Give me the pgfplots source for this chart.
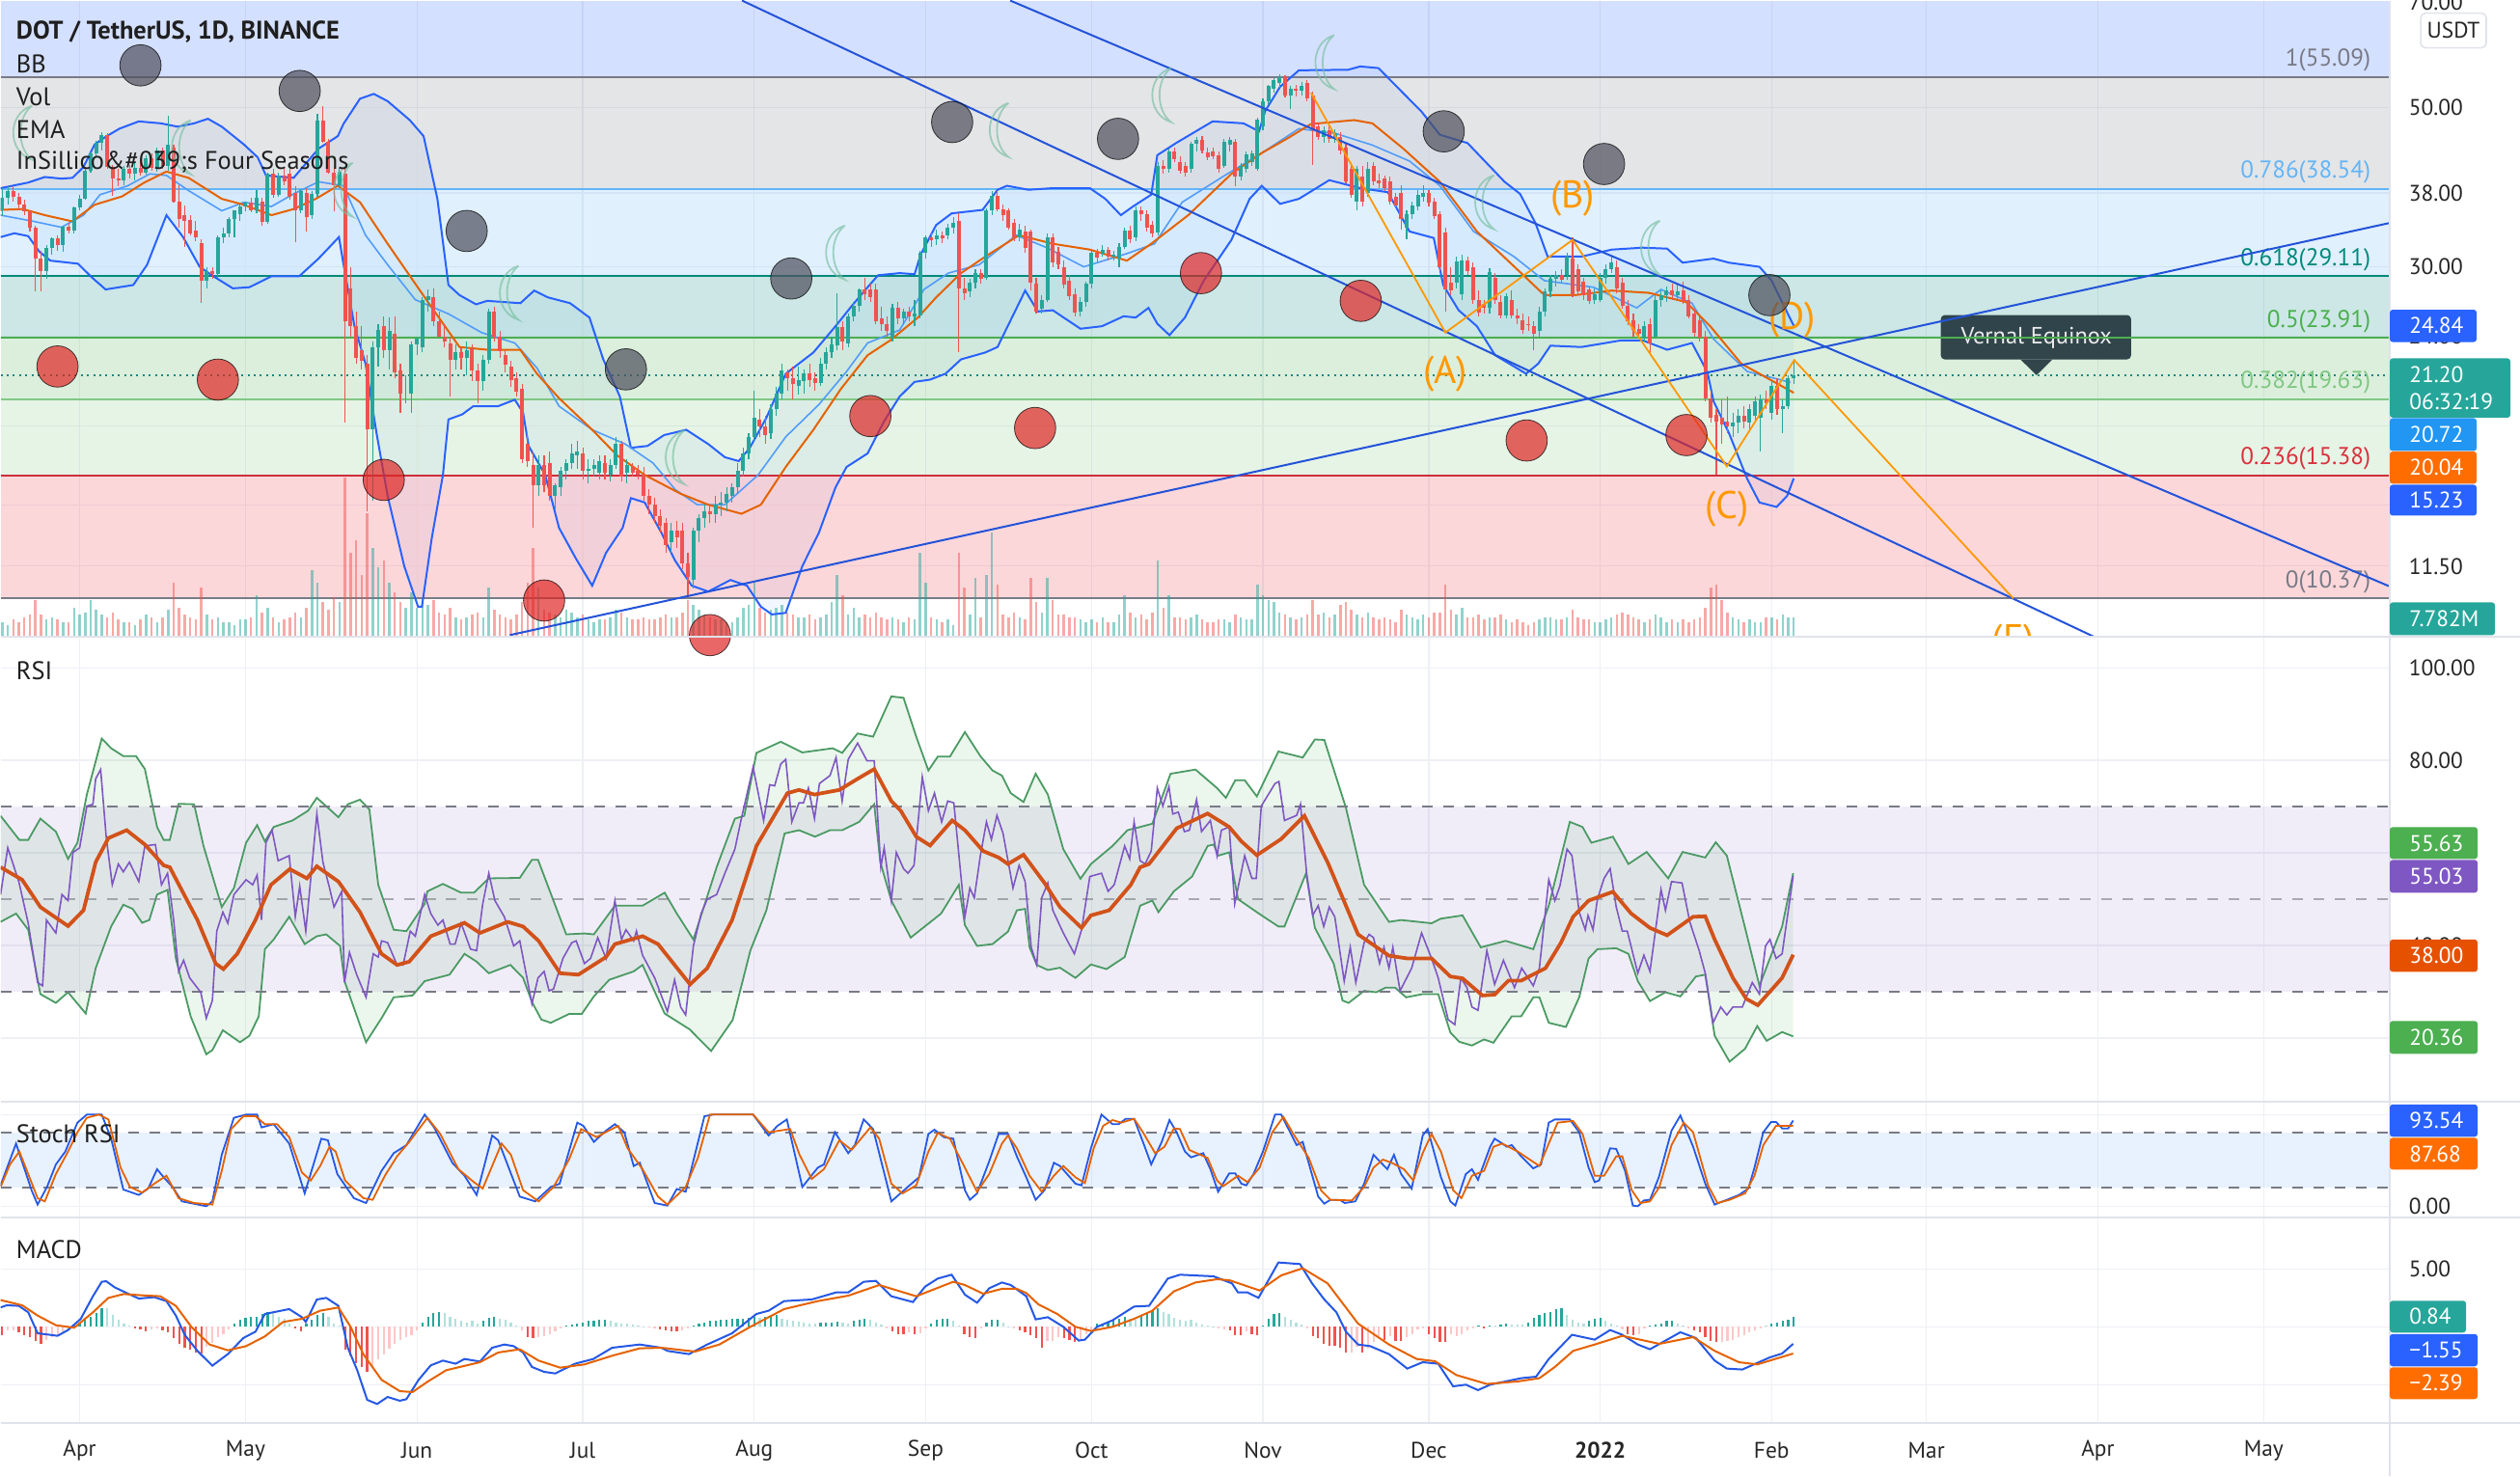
\documentclass[border=0pt]{standalone}
\usepackage{fontspec}
\usepackage{pgfplots}
\usepackage{pgfplotstable}
\pgfplotsset{compat=1.18}
\usepgfplotslibrary{fillbetween}
\setmainfont{PT Sans}

\definecolor{upc}{HTML}{26A69A}
\definecolor{dnc}{HTML}{EF5350}
\definecolor{bluel}{HTML}{2962FF}
\definecolor{orangel}{HTML}{FF6D00}
\definecolor{gridc}{HTML}{EEF0F5}
\definecolor{dividerc}{HTML}{E0E3EB}
\definecolor{fibg}{HTML}{787B86}
\definecolor{fibb}{HTML}{64B5F6}
\definecolor{fibt}{HTML}{00897B}
\definecolor{fibn}{HTML}{4CAF50}
\definecolor{fibl}{HTML}{81C784}
\definecolor{fibr}{HTML}{F23645}
\definecolor{circg}{HTML}{50525F}
\definecolor{circr}{HTML}{DF2625}
\definecolor{moonc}{HTML}{78BEA0}
\definecolor{zigc}{HTML}{FF9800}
\definecolor{rsic}{HTML}{7E57C2}
\definecolor{rsima}{HTML}{D2521A}
\definecolor{bandc}{HTML}{4B9A64}
\definecolor{tipc}{HTML}{2C4147}
\definecolor{tag2}{HTML}{2196F3}
\definecolor{tag3}{HTML}{E65100}

\pgfdeclareplotmark{moon}{%
  \pgfpathmoveto{\pgfpoint{4pt}{14pt}}
  \pgfpathcurveto{\pgfpoint{-9pt}{10pt}}{\pgfpoint{-9pt}{-10pt}}{\pgfpoint{4pt}{-14pt}}
  \pgfpathcurveto{\pgfpoint{-4pt}{-8pt}}{\pgfpoint{-4pt}{8pt}}{\pgfpoint{4pt}{14pt}}
  \pgfusepathqstroke}

% day 0 = 1 Apr 2021; d o h l c v(M)
\pgfplotstableread{
d o h l c v
-14 35.9 38.6 35.3 37.4 6
-13 37.4 38.9 36.6 38.2 5
-12 38.2 38.9 37.0 37.6 7
-11 37.6 38.0 36.0 36.6 6
-10 36.6 37.2 35.4 35.8 8
-9 35.8 36.0 33.6 34.0 9
-8 34.0 34.2 27.7 30.8 15
-7 30.8 31.6 27.7 29.6 9
-6 29.6 32.2 28.9 31.9 7
-5 31.9 33.0 31.2 32.9 8
-4 32.9 33.2 31.6 32.2 7
-3 32.2 34.2 31.5 34.1 6
-2 34.1 34.5 33.4 33.7 6
-1 33.7 36.4 33.4 36.3 12
0 36.3 37.8 35.9 37.3 9
1 37.3 41.3 37.2 40.8 10
2 40.8 43.3 40.5 43.2 15
3 43.2 44.9 42.8 44.6 11
4 44.6 46.2 43.6 45.8 9
5 45.8 46.0 41.0 41.3 8
6 41.3 41.6 37.7 39.8 10
7 39.8 41.0 38.8 39.6 7
8 39.6 41.4 39.0 41.0 6
9 41.0 41.6 39.8 40.4 6
10 40.4 41.8 39.6 41.2 5
11 41.2 42.5 40.2 40.6 7
12 40.6 42.9 40.3 42.5 9
13 42.5 43.2 40.8 41.2 8
14 41.2 43.9 40.7 43.5 6
15 43.5 44.0 41.0 41.5 8
16 41.5 48.6 40.8 44.3 11
17 44.0 44.4 36.8 37.0 22
18 37.0 39.0 34.0 35.0 12
19 35.4 36.5 32.0 34.8 9
20 34.9 35.4 33.2 33.4 8
21 33.7 34.8 32.6 33.0 7
22 32.4 32.8 26.7 28.7 20
23 28.7 30.0 28.0 29.6 9
24 29.6 30.0 28.9 29.3 7
25 29.3 33.2 29.0 33.0 8
26 33.0 34.0 32.4 33.4 6
27 33.4 35.2 33.0 35.0 6
28 35.0 36.0 33.0 35.9 5
29 35.5 36.6 34.8 36.4 7
30 36.4 37.0 35.8 36.8 7
31 36.9 37.4 35.7 36.0 8
32 36.0 38.4 35.6 37.4 17
33 37.0 37.4 34.2 34.6 10
34 34.6 40.6 34.4 40.4 12
35 40.4 41.0 37.4 37.8 8
36 37.8 40.6 37.6 40.2 6
37 40.2 41.2 39.0 39.5 7
38 40.4 41.0 37.2 37.6 8
39 38.0 38.8 32.5 35.9 10
40 35.9 38.5 35.6 38.2 8
41 38.0 38.6 33.6 35.2 12
42 35.4 38.2 35.0 37.9 27
43 37.9 49.0 37.6 47.9 22
44 47.9 50.2 44.6 44.8 14
45 44.8 45.2 40.4 40.6 11
46 40.6 41.2 35.8 39.0 16
47 39.0 41.2 38.6 40.7 14
48 40.4 41.0 18.2 25.2 64
49 28.0 30.0 24.0 24.8 34
50 24.8 26.0 22.0 22.4 39
51 23.0 24.8 21.6 22.2 25
52 22.0 22.6 13.7 17.8 50
53 17.8 23.6 14.2 23.2 36
54 23.2 25.0 21.8 24.5 28
55 24.8 25.6 22.4 23.0 31
56 23.0 25.5 21.6 24.4 22
57 24.2 25.6 21.0 21.4 18
58 21.5 22.0 18.8 20.0 14
59 20.2 21.2 19.4 20.2 12
60 20.0 23.6 18.8 23.4 18
61 23.4 24.0 22.6 23.8 12
62 23.2 27.2 22.8 27.0 16
63 27.0 27.9 26.0 27.3 13
64 27.2 28.0 24.8 25.2 15
65 25.2 26.0 23.8 24.0 10
66 24.0 25.0 23.2 23.6 9
67 23.5 24.0 19.8 22.3 12
68 22.3 23.4 21.6 22.8 8
69 22.8 23.2 21.6 22.4 7
70 22.4 23.6 21.2 23.0 8
71 23.1 23.4 20.8 21.5 9
72 21.5 22.0 19.4 20.8 10
73 20.8 22.6 20.2 22.3 8
74 22.3 26.2 22.0 26.0 20
75 26.0 26.4 23.6 24.0 11
76 24.0 24.4 22.4 22.9 9
77 22.6 23.0 21.4 21.9 8
78 21.8 22.2 20.4 20.9 7
79 21.0 21.4 19.8 20.1 9
80 20.3 20.6 16.0 16.2 14
81 17.0 17.6 15.8 16.1 22
82 15.9 16.6 13.0 14.9 36
83 14.9 16.4 14.4 15.9 20
84 15.9 16.4 14.6 14.9 11
85 16.0 16.6 14.2 14.4 10
86 14.4 15.0 13.8 14.9 9
87 14.8 15.8 14.4 15.6 8
88 15.6 16.2 15.2 16.0 11
89 16.0 17.0 15.7 16.5 10
90 16.4 17.2 15.7 16.6 8
91 16.5 16.8 15.2 15.6 9
92 15.6 16.2 15.0 15.7 7
93 15.7 16.2 15.3 15.9 6
94 15.5 16.4 15.2 16.1 7
95 16.0 16.4 15.2 15.5 7
96 15.4 16.2 15.1 15.9 8
97 15.9 17.4 15.7 17.0 11
98 17.0 17.2 15.1 15.3 10
99 15.5 16.2 15.0 15.9 8
100 15.8 16.0 15.3 15.5 7
101 15.6 15.9 15.2 15.4 7
102 15.4 15.8 14.2 14.4 8
103 14.4 14.7 13.6 14.0 7
104 14.0 14.3 13.2 13.5 7
105 13.5 13.8 12.8 13.1 8
106 13.2 13.4 12.0 12.3 9
107 12.4 13.2 12.0 12.9 8
108 12.9 13.3 12.2 12.6 8
109 12.9 13.2 11.4 11.6 10
110 11.6 12.0 10.4 11.1 15
111 11.0 13.0 10.7 12.9 13
112 12.9 13.6 12.4 13.4 11
113 13.4 14.0 13.0 13.7 9
114 13.7 14.0 13.2 13.6 8
115 13.6 14.4 13.2 14.0 7
116 14.0 14.6 13.5 14.1 7
117 14.1 14.8 13.7 14.5 6
118 14.4 15.0 14.1 14.8 6
119 14.8 16.0 14.5 15.6 8
120 15.6 16.8 15.3 16.5 12
121 16.5 17.6 16.2 17.4 13
122 17.4 20.2 17.2 18.5 22
123 18.4 19.0 17.4 18.0 12
124 18.0 18.6 17.0 17.5 10
125 17.6 19.3 17.3 19.0 11
126 19.0 20.4 18.6 20.0 12
127 20.0 22.0 19.6 21.5 13
128 21.4 21.6 20.2 21.0 10
129 21.0 21.8 19.6 20.6 9
130 20.5 21.8 19.9 20.9 8
131 20.8 21.6 20.0 21.3 8
132 21.3 22.0 20.4 20.9 9
133 21.0 21.4 20.2 20.7 7
134 20.7 22.4 20.5 22.0 8
135 22.0 23.2 21.6 22.8 9
136 22.8 24.0 22.4 23.4 14
137 23.3 27.6 23.0 24.7 25
138 24.7 25.2 23.0 23.6 17
139 23.5 25.8 23.2 25.6 9
140 25.6 26.8 25.2 26.5 12
141 26.5 28.0 26.0 27.9 8
142 27.9 29.0 27.0 27.5 9
143 27.9 28.4 26.8 27.2 8
144 27.9 28.4 25.0 25.2 10
145 25.4 26.4 24.4 25.0 8
146 25.0 25.6 24.0 24.4 7
147 24.0 26.6 23.6 26.3 8
148 26.3 26.8 25.0 25.4 7
149 25.4 26.2 25.0 26.0 6
150 26.0 26.4 25.2 25.6 8
151 25.6 27.0 24.8 25.8 7
152 25.7 31.6 25.4 31.4 34
153 31.4 33.2 30.8 33.0 22
154 33.0 33.6 32.0 32.7 8
155 32.8 33.8 32.2 33.2 7
156 33.2 33.6 32.4 32.9 6
157 33.2 34.4 32.8 34.0 7
158 34.0 35.2 33.4 34.5 5
159 34.7 35.6 22.8 28.0 34
160 28.0 29.0 27.0 27.6 20
161 27.7 28.9 27.2 28.5 9
162 28.5 29.8 28.0 29.4 24
163 29.4 29.8 28.4 28.9 8
164 29.0 36.2 28.8 35.9 25
165 35.9 38.2 35.4 37.7 42
166 37.7 38.2 35.8 36.1 21
167 36.1 36.6 34.8 35.4 9
168 35.9 36.2 33.8 34.0 8
169 34.5 35.0 32.6 33.0 10
170 33.0 34.4 32.6 33.8 8
171 33.6 34.2 31.4 31.9 7
172 33.6 33.8 27.8 28.5 24
173 28.4 29.0 25.8 26.0 14
174 26.2 27.4 25.8 27.0 10
175 27.0 33.4 26.8 33.0 24
176 33.0 33.4 30.0 30.4 15
177 31.5 32.0 29.8 30.2 9
178 30.0 30.6 28.0 28.3 9
179 28.7 29.2 27.0 27.3 8
180 27.5 28.0 25.6 25.9 8
181 26.0 27.2 25.6 26.8 7
182 26.8 28.6 26.4 28.4 6
183 28.4 31.6 28.0 31.4 7
184 31.4 31.8 30.4 30.9 6
185 31.3 32.2 31.0 31.7 8
186 31.7 32.0 30.6 31.0 6
187 31.0 31.6 30.6 31.2 6
188 30.8 32.4 30.0 32.0 9
189 32.0 34.0 31.8 33.7 17
190 33.7 34.2 32.4 32.8 10
191 33.0 36.4 32.6 36.0 8
192 36.0 36.4 34.8 35.5 9
193 35.5 36.0 33.6 34.0 7
194 34.3 34.8 33.0 33.4 10
195 33.5 42.0 33.2 41.5 31
196 41.5 42.2 40.4 41.0 12
197 41.0 43.8 40.6 43.4 17
198 43.4 44.0 42.0 42.4 8
199 42.0 42.8 40.4 40.8 8
200 41.4 42.0 40.0 40.6 7
201 41.0 44.8 40.6 44.5 8
202 44.5 45.4 43.4 45.0 9
203 45.0 45.6 43.2 43.6 7
204 43.3 44.0 42.2 42.6 6
205 43.4 44.0 42.4 42.8 6
206 42.9 43.4 40.6 41.0 7
207 41.5 45.2 41.2 44.8 7
208 44.4 45.4 43.4 45.0 6
209 44.8 45.2 38.8 40.0 9
210 40.0 41.8 39.6 41.4 8
211 41.0 43.4 40.6 43.0 7
212 42.0 43.6 41.4 43.2 7
213 41.0 48.4 40.8 48.0 21
214 47.0 51.4 46.4 51.0 17
215 51.0 53.8 50.4 53.5 15
216 53.0 55.0 52.4 54.5 14
217 54.0 55.6 53.2 55.0 10
218 55.0 55.4 51.6 52.0 9
219 52.0 53.6 49.8 53.0 8
220 53.0 53.8 51.8 52.8 7
221 52.8 54.2 52.0 53.5 8
222 54.0 54.6 51.0 51.5 9
223 52.0 52.6 41.6 46.5 15
224 47.0 47.6 45.0 45.5 9
225 45.5 47.0 44.6 46.5 10
226 46.5 47.2 44.6 45.2 8
227 45.2 46.6 44.6 46.0 9
228 45.5 46.2 43.0 43.5 13
229 44.0 44.6 39.2 39.5 14
230 41.0 41.6 37.4 37.8 11
231 37.0 41.4 36.0 41.0 9
232 40.0 41.4 36.4 37.0 8
233 38.0 42.0 37.6 41.0 10
234 41.5 42.0 39.0 39.5 8
235 39.6 40.4 38.6 39.2 7
236 39.8 40.2 38.2 38.6 8
237 39.5 40.0 36.6 37.0 7
238 37.5 38.0 36.2 36.5 6
239 38.0 39.0 33.8 35.0 11
240 34.0 36.0 32.8 35.5 9
241 35.5 37.0 35.0 36.5 8
242 36.4 38.4 36.0 37.8 7
243 37.5 39.0 37.0 38.0 9
244 38.0 38.4 36.4 36.8 8
245 37.0 37.4 35.0 35.3 10
246 35.5 35.8 29.6 30.0 10
247 33.5 34.0 26.0 27.9 21
248 28.5 30.0 27.4 27.8 11
249 28.5 31.0 28.0 30.5 9
250 27.5 31.2 27.0 30.6 12
251 30.6 31.0 29.2 29.6 8
252 30.0 30.4 26.6 27.0 8
253 27.0 27.8 25.6 25.9 9
254 26.6 27.0 25.8 26.3 7
255 26.3 29.9 25.8 29.5 8
256 29.0 29.4 26.6 27.0 8
257 26.8 27.4 25.4 25.7 9
258 25.7 27.6 25.4 27.3 7
259 27.0 27.8 25.4 25.7 6
260 25.7 26.2 25.0 25.4 7
261 25.3 25.8 24.2 24.5 6
262 25.0 25.6 24.4 24.9 5
263 24.8 25.2 23.0 24.2 6
264 24.4 26.4 24.0 26.0 7
265 26.0 28.0 25.6 27.7 8
266 27.7 29.2 27.2 28.9 8
267 28.9 29.6 28.2 29.2 7
268 29.2 29.8 28.4 28.8 7
269 29.2 31.4 28.8 31.0 8
270 30.8 33.0 27.2 27.5 11
271 29.8 30.2 27.4 27.7 8
272 28.6 29.0 27.0 27.4 7
273 27.9 28.2 26.6 26.9 7
274 27.0 28.0 26.6 27.5 6
275 27.0 29.4 26.8 29.0 6
276 29.0 30.2 28.4 29.8 7
277 29.8 31.0 29.4 30.4 8
278 30.0 30.6 27.6 28.0 9
279 28.5 29.0 26.2 26.5 10
280 26.5 27.0 24.9 25.2 9
281 25.3 25.8 24.0 24.5 8
282 24.6 25.0 23.9 24.2 7
283 23.9 25.2 23.6 24.8 6
284 25.0 25.4 22.6 23.5 7
285 24.0 27.4 23.8 27.0 9
286 27.0 27.8 26.4 27.4 8
287 27.4 28.2 26.8 27.8 6
288 27.8 28.4 27.0 27.4 7
289 27.4 28.4 27.0 27.7 6
290 27.8 28.6 26.6 26.9 7
291 27.0 27.4 25.4 25.6 6
292 25.8 26.2 24.0 24.3 7
293 25.3 25.6 23.6 23.9 8
294 24.0 24.4 19.5 19.7 12
295 19.7 20.2 18.2 18.5 20
296 18.7 19.0 15.4 18.3 21
297 18.5 19.6 17.0 18.1 15
298 18.3 19.8 17.6 18.0 10
299 18.0 18.8 17.4 18.2 8
300 18.2 19.0 17.6 18.6 7
301 18.6 19.2 17.9 18.3 6
302 18.2 19.3 17.7 19.0 7
303 18.6 19.8 18.2 19.5 6
304 18.5 19.9 16.6 19.6 6
305 19.6 20.2 19.0 19.4 8
306 18.8 20.8 18.4 20.5 8
307 20.5 21.0 18.7 19.0 7
308 19.0 19.6 17.6 19.2 9
309 19.2 21.2 19.0 21.0 8
310 21.0 22.3 20.6 21.2 7.782
}\candles

% d h k: k=1 rising above 0, 2 falling above 0, 3 falling below 0, 4 rising below 0
\pgfplotstableread[row sep=\\]{
d h k \\
-14 -.7 3 \\ -13 -.3 4 \\ -12 -.3 4 \\ -11 -.5 3 \\ -10 -.7 3 \\ -9 -.9 3 \\ -8 -1.2 3 \\ -7 -1.5 3 \\ -6 -1.1 4 \\ -5 -.9 4 \\
-4 -.8 4 \\ -3 -.5 4 \\ -2 -.2 4 \\ -1 .1 1 \\ 0 .4 1 \\ 1 .7 1 \\ 2 .9 1 \\ 3 1.2 1 \\ 4 1.6 1 \\ 5 1.6 2 \\
6 1 2 \\ 7 .6 2 \\ 8 .3 2 \\ 9 .1 2 \\ 10 -.1 3 \\ 11 -.2 3 \\ 12 -.35 3 \\ 13 -.2 4 \\ 14 -.1 4 \\ 15 -.3 3 \\
16 -.5 3 \\ 17 -1 3 \\ 18 -1.5 3 \\ 19 -1.8 3 \\ 20 -2 3 \\ 21 -2.2 3 \\ 22 -2.3 3 \\ 23 -1.7 4 \\ 24 -1.4 4 \\ 25 -.9 4 \\
26 -.6 4 \\ 27 -.2 4 \\ 28 .3 1 \\ 29 .6 1 \\ 30 .8 1 \\ 31 .85 1 \\ 32 .9 1 \\ 33 1.1 1 \\ 34 1.3 1 \\ 35 1.2 2 \\
36 .9 2 \\ 37 .7 2 \\ 38 .3 2 \\ 39 -.15 3 \\ 40 -.4 3 \\ 41 .3 1 \\ 42 .6 1 \\ 43 1 1 \\ 44 1.2 1 \\ 45 .9 2 \\
46 .3 2 \\ 47 .1 2 \\ 48 -2 3 \\ 49 -2.5 3 \\ 50 -3.1 3 \\ 51 -3.5 3 \\ 52 -3.9 3 \\ 53 -3.4 4 \\ 54 -2.8 4 \\ 55 -2.4 4 \\
56 -1.9 4 \\ 57 -1.5 4 \\ 58 -1.1 4 \\ 59 -.9 4 \\ 60 -.7 4 \\ 61 -.3 4 \\ 62 .4 1 \\ 63 .9 1 \\ 64 1.2 1 \\ 65 1.3 1 \\
66 1.2 2 \\ 67 .9 2 \\ 68 .7 2 \\ 69 .5 2 \\ 70 .4 2 \\ 71 .5 2 \\ 72 .3 2 \\ 73 .5 1 \\ 74 .8 1 \\ 75 .9 1 \\
76 .7 2 \\ 77 .6 2 \\ 78 .4 2 \\ 79 .1 2 \\ 80 -.3 4 \\ 81 -.9 3 \\ 82 -1 3 \\ 83 -.9 4 \\ 84 -.8 4 \\ 85 -.6 4 \\
86 -.4 4 \\ 87 -.1 4 \\ 88 .1 1 \\ 89 .2 1 \\ 90 .3 1 \\ 91 .4 1 \\ 92 .5 1 \\ 93 .5 1 \\ 94 .6 1 \\ 95 .6 1 \\
96 .5 2 \\ 97 .4 2 \\ 98 .3 2 \\ 99 .3 2 \\ 100 .2 2 \\ 101 .1 2 \\ 102 .05 2 \\ 103 -.05 4 \\ 104 -.1 4 \\ 105 -.2 3 \\
106 -.3 3 \\ 107 -.4 3 \\ 108 -.4 3 \\ 109 -.3 4 \\ 110 -.15 4 \\ 111 .1 1 \\ 112 .3 1 \\ 113 .4 1 \\ 114 .5 1 \\ 115 .5 1 \\
116 .6 1 \\ 117 .6 1 \\ 118 .7 1 \\ 119 .7 1 \\ 120 .7 1 \\ 121 .8 1 \\ 122 .9 1 \\ 123 .8 2 \\ 124 .9 1 \\ 125 .95 1 \\
126 1 1 \\ 127 .7 2 \\ 128 .6 2 \\ 129 .5 2 \\ 130 .45 2 \\ 131 .4 2 \\ 132 .3 2 \\ 133 .3 2 \\ 134 .4 1 \\ 135 .4 1 \\
136 .4 1 \\ 137 .45 1 \\ 138 .4 2 \\ 139 .3 2 \\ 140 .5 1 \\ 141 .6 1 \\ 142 .7 1 \\ 143 .6 2 \\ 144 .4 2 \\ 145 .2 2 \\
146 -.1 4 \\ 147 -.4 3 \\ 148 -.6 3 \\ 149 -.6 3 \\ 150 -.5 4 \\ 151 -.6 3 \\ 152 -.55 4 \\ 153 -.1 4 \\ 154 .3 1 \\ 155 .6 1 \\
156 .7 1 \\ 157 .7 1 \\ 158 .5 2 \\ 159 .1 2 \\ 160 -.6 3 \\ 161 -.9 3 \\ 162 -1 3 \\ 163 -.1 4 \\ 164 .4 1 \\ 165 .6 1 \\
166 .6 1 \\ 167 .4 2 \\ 168 .05 2 \\ 169 -.1 4 \\ 170 -.3 3 \\ 171 -.5 3 \\ 172 -.7 3 \\ 173 -1 3 \\ 174 -1.8 3 \\ 175 -1.2 4 \\
176 -1.2 4 \\ 177 -.9 4 \\ 178 -1 3 \\ 179 -1.1 3 \\ 180 -1.3 3 \\ 181 -1.1 4 \\ 182 -.6 4 \\ 183 -.3 4 \\ 184 .3 1 \\ 185 .3 1 \\
186 .4 1 \\ 187 .5 1 \\ 188 .7 1 \\ 189 .9 1 \\ 190 .7 2 \\ 191 .6 2 \\ 192 1 1 \\ 193 1.2 1 \\ 194 1.4 1 \\ 195 1.6 1 \\
196 1.3 2 \\ 197 1.1 2 \\ 198 .8 2 \\ 199 .6 2 \\ 200 .5 2 \\ 201 .6 2 \\ 202 .4 2 \\ 203 .2 2 \\ 204 .1 2 \\ 205 .02 2 \\
206 -.1 4 \\ 207 -.2 4 \\ 208 -.3 3 \\ 209 -.7 3 \\ 210 -.7 3 \\ 211 -.4 4 \\ 212 -.6 3 \\ 213 -.7 3 \\ 214 .1 1 \\ 215 .7 1 \\
216 1.1 1 \\ 217 1.2 1 \\ 218 .9 2 \\ 219 .6 2 \\ 220 .4 2 \\ 221 .2 2 \\ 222 -.1 4 \\ 223 -.8 3 \\ 224 -1 3 \\ 225 -1.5 3 \\
226 -1.6 3 \\ 227 -1.6 3 \\ 228 -1.8 3 \\ 229 -2.2 3 \\ 230 -2.2 4 \\ 231 -1.7 4 \\ 232 -2.2 3 \\ 233 -1.9 4 \\ 234 -1.3 4 \\ 235 -.8 4 \\
236 -1.1 3 \\ 237 -.8 4 \\ 238 -1.2 3 \\ 239 -1.2 3 \\ 240 -.9 4 \\ 241 -.6 4 \\ 242 -.2 4 \\ 243 -.1 4 \\ 244 -.6 3 \\ 245 -1 3 \\
246 -1.3 3 \\ 247 -1.3 3 \\ 248 -.6 4 \\ 249 -.8 4 \\ 250 -.6 4 \\ 251 -.3 4 \\ 252 -.1 4 \\ 253 .1 1 \\ 254 -.1 3 \\ 255 .15 1 \\
256 .1 2 \\ 257 .2 1 \\ 258 .3 1 \\ 259 .2 2 \\ 260 .2 2 \\ 261 .2 2 \\ 262 .4 1 \\ 263 .8 1 \\ 264 1 1 \\ 265 1.2 1 \\
266 1.3 1 \\ 267 1.5 1 \\ 268 1.6 1 \\ 269 1 2 \\ 270 .6 2 \\ 271 .4 2 \\ 272 .3 2 \\ 273 .5 1 \\ 274 .7 1 \\ 275 .8 1 \\
276 .5 2 \\ 277 .3 2 \\ 278 .1 2 \\ 279 -.2 4 \\ 280 -.6 3 \\ 281 -.7 3 \\ 282 -.6 4 \\ 283 -.1 4 \\ 284 .1 1 \\ 285 .2 1 \\
286 .3 1 \\ 287 .5 1 \\ 288 .5 1 \\ 289 .3 2 \\ 290 .1 2 \\ 291 -.1 4 \\ 292 -.3 3 \\ 293 -.5 3 \\ 294 -.9 3 \\ 295 -1.2 3 \\
296 -1.3 3 \\ 297 -1.3 4 \\ 298 -1.2 4 \\ 299 -1.1 4 \\ 300 -.9 4 \\ 301 -.7 4 \\ 302 -.5 4 \\ 303 -.3 4 \\ 304 -.1 4 \\ 305 .1 2 \\
306 .3 1 \\ 307 .4 1 \\ 308 .5 1 \\ 309 .6 1 \\ 310 .84 1 \\
}\machist

\pgfplotsset{
  pane/.style={
    scale only axis, width=1238.5pt, xmin=-14.3, xmax=417.8, anchor=north west,
    xtick={0,30,61,91,122,153,183,214,244,275,306,334,365,395},
    xticklabels={}, grid=major, grid style={color=gridc, line width=.6pt},
    axis line style={draw=none}, major tick length=0pt,
    ytick pos=right, yticklabel pos=right,
    yticklabel style={anchor=west, inner sep=0pt, xshift=9.75pt, font=\fontsize{11.7}{12}\selectfont, text=black!85},
    tick style={draw=none}},
  overlay/.style={
    scale only axis, width=1238.5pt, xmin=-14.3, xmax=417.8, anchor=north west, hide axis}
}

\newcommand{\filterup}[1]{{\thisrow{c}>=\thisrow{o}?\thisrow{#1}:nan}}
\newcommand{\filterdn}[1]{{\thisrow{c}<\thisrow{o}?\thisrow{#1}:nan}}
\newcommand{\histk}[1]{{\thisrow{k}==#1?\thisrow{h}:nan}}
\newcommand{\lblfont}{\fontsize{11.7}{12}\selectfont}
\newcommand{\legfont}{\fontsize{13.2}{14}\selectfont}
\newcommand{\fibfont}{\fontsize{12.6}{13}\selectfont}
\newcommand{\pill}[5]{%
  \fill[#4, rounded corners=1.5pt] (1238.5pt,{(1530-#1)/2*1pt}) rectangle ({#3/2*1pt},{(1530-#2)/2*1pt});
  \node[anchor=west, inner sep=0pt, white, font=\lblfont] at (1248.5pt,{(1530-(#1+#2)/2)/2*1pt}) {#5};}
\newcommand{\panetext}[3]{\node[anchor=west, inner sep=0pt, text=black!88, font=#3] at (8pt,{(1530-#1)/2*1pt}) {#2};}

\begin{document}
\begin{tikzpicture}
\path (0,0) rectangle (1306pt,765pt);

% price pane: fibonacci bands
\begin{axis}[pane, at={(0pt,765pt)}, height=330pt, ymode=log, ymin=9.16, ymax=70.4,
  ytick={11.5,14,18,24,30,38,50}, yticklabels={11.50,,,24.00,30.00,38.00,50.00},
  minor ytick={}, log basis y=10]
  \addplot[draw=none, fill=bluel, fill opacity=.2] coordinates {(-14.3,70.4)(417.8,70.4)(417.8,55.09)(-14.3,55.09)} --cycle;
  \addplot[draw=none, fill=fibg, fill opacity=.2] coordinates {(-14.3,55.09)(417.8,55.09)(417.8,38.54)(-14.3,38.54)} --cycle;
  \addplot[draw=none, fill=fibb, fill opacity=.2] coordinates {(-14.3,38.54)(417.8,38.54)(417.8,29.11)(-14.3,29.11)} --cycle;
  \addplot[draw=none, fill=fibt, fill opacity=.2] coordinates {(-14.3,29.11)(417.8,29.11)(417.8,23.91)(-14.3,23.91)} --cycle;
  \addplot[draw=none, fill=fibn, fill opacity=.2] coordinates {(-14.3,23.91)(417.8,23.91)(417.8,19.63)(-14.3,19.63)} --cycle;
  \addplot[draw=none, fill=fibl, fill opacity=.2] coordinates {(-14.3,19.63)(417.8,19.63)(417.8,15.38)(-14.3,15.38)} --cycle;
  \addplot[draw=none, fill=fibr, fill opacity=.2] coordinates {(-14.3,15.38)(417.8,15.38)(417.8,10.37)(-14.3,10.37)} --cycle;
  % tooltip
  \fill[tipc, opacity=.97, rounded corners=2pt] (axis cs:336.6,25.7) rectangle (axis cs:371,22.3);
  \fill[tipc, opacity=.97] (axis cs:351,22.3) -- (axis cs:353.9,21.2) -- (axis cs:356.8,22.3) -- cycle;
  \node[text=white!92!black, font=\fontsize{12.2}{13}\selectfont, inner sep=0pt] at (axis cs:353.9,23.91) {Vernal Equinox};
  % fib levels
  \addplot[fibg, line width=1pt] coordinates {(-14.3,55.09)(417.8,55.09)};
  \addplot[fibb, line width=1pt] coordinates {(-14.3,38.54)(417.8,38.54)};
  \addplot[fibt, line width=1pt] coordinates {(-14.3,29.11)(417.8,29.11)};
  \addplot[fibn, line width=1pt] coordinates {(-14.3,23.91)(417.8,23.91)};
  \addplot[fibl, line width=1pt] coordinates {(-14.3,19.63)(417.8,19.63)};
  \addplot[fibr!85!black, line width=1pt] coordinates {(-14.3,15.38)(417.8,15.38)};
  \addplot[fibg, line width=1pt] coordinates {(-14.3,10.37)(417.8,10.37)};
  \addplot[upc!80!black, line width=.7pt, dash pattern=on 1pt off 2.2pt] coordinates {(-14.3,21.2)(417.8,21.2)};
  \begin{scope}[font=\fibfont, yshift=2.5pt]
    \node[anchor=south east, inner sep=0pt, text=fibg] at (axis cs:414.4,55.09) {1(55.09)};
    \node[anchor=south east, inner sep=0pt, text=fibb] at (axis cs:414.4,38.54) {0.786(38.54)};
    \node[anchor=south east, inner sep=0pt, text=fibt] at (axis cs:414.4,29.11) {0.618(29.11)};
    \node[anchor=south east, inner sep=0pt, text=fibn] at (axis cs:414.4,23.91) {0.5(23.91)};
    \node[anchor=south east, inner sep=0pt, text=fibl] at (axis cs:414.4,19.63) {0.382(19.63)};
    \node[anchor=south east, inner sep=0pt, text=fibr!90!black] at (axis cs:414.4,15.38) {0.236(15.38)};
    \node[anchor=south east, inner sep=0pt, text=fibg] at (axis cs:414.4,10.37) {0(10.37)};
  \end{scope}
\end{axis}

% volume
\begin{axis}[overlay, at={(0pt,765pt)}, height=330pt, ymin=0, ymax=256]
  \addplot[ycomb, upc, opacity=.5, line width=1.25pt, mark=none] table[x=d, y expr=\filterup{v}] {\candles};
  \addplot[ycomb, dnc, opacity=.5, line width=1.25pt, mark=none] table[x=d, y expr=\filterdn{v}] {\candles};
\end{axis}

% candles, bollinger, ema, drawings
\begin{axis}[overlay, at={(0pt,765pt)}, height=330pt, ymode=log, ymin=9.16, ymax=70.4]
  \addplot[name path=bbu, bluel, line width=1pt] coordinates {
  (-14.3,38.6)(-9.3,39.3)(-6.3,40)(-3.3,39.8)(-1.3,39.9)(0.7,41.3)(2.7,44.4)(4.7,45.5)(7.2,46.7)(10.7,47.8)(14.7,47.5)(17.7,47)(20.7,47.5)(23.2,48.2)(25.7,47)(29.7,44.4)(32.2,42.6)(33.7,40.2)(38.7,39.9)(43.2,43.8)(46.7,45.6)(47.7,47.4)(50.7,51.4)(53.2,52.2)(55.7,51)(59.7,48)(62.2,45.6)(64.7,37.3)(66.7,28.3)(68.7,27.4)(71.7,26.6)(73.7,26.9)(79.7,26.7)(82.2,27.8)(84.7,27.2)(88.7,26.7)(92.2,25.5)(94.7,22.3)(97.7,19.8)(99.7,16.8)(102.7,16.9)(105.7,17.5)(109.7,17.8)(113.7,17)(116.7,16.3)(119.2,16.1)(121.2,16.8)(124.2,18.5)(127.7,21.3)(132.7,22.8)(136.7,24.8)(139.7,26.5)(142.5,28.1)
  (144.4,29.2)(148.3,29.4)(151,29.3)(152.1,31.2)(154.9,34.3)(157.7,35.6)(163.3,36)(166,38.4)(167.7,38.9)(171.6,38.4)(176,38.6)(182.7,38.6)(185.5,37.3)(188.3,35.4)(190.5,36.4)(193.8,37.8)(194.9,42.9)(198.3,44.6)(204.9,47.8)(210.5,47.5)(213.3,46.3)(214.4,49.4)(217.1,53.4)(220.5,56.3)(229.4,56.4)(231.6,57)(234.9,56.7)(239.4,52.3)(242.7,49.3)(246,45.8)(251,44.6)(257.7,39.4)(260.5,37.9)(263.3,34.5)(265.5,31)(271.6,31)(277.1,31.7)(282.7,31.9)(287.1,31.8)(289.9,30.4)(295.5,30.8)(298.3,30.4)(303.8,30)(306,28.7)(308.2,26.5)(310,24.84)};
  \addplot[name path=bbl, bluel, line width=1pt] coordinates {
  (-14.3,33)(-11.8,33.4)(-9.3,33.1)(-7.3,31.5)(-5.3,30.6)(-0.3,30.3)(2.2,29)(4.7,27.9)(9.7,28.3)(12.2,30.2)(15.7,35.4)(18.7,33)(21.7,30)(24.2,29.1)(27.7,28)(30.7,28.1)(34.7,29.1)(39.7,29.1)(43.2,30.8)(46.9,33)(47.7,30.3)(49.7,24.8)(51.7,22)(53.7,17.6)(55.7,14.4)(58.7,11.5)(61.2,10.1)(61.9,10.1)(63.7,12.6)(65.7,15.4)(66.7,18.4)(69.2,18.7)(71.2,19.2)(75.7,19.2)(78.7,19.6)(80.2,18.8)(81.2,16.9)(84.2,15.4)(86.7,13)(89.7,11.8)(92.7,10.8)(95.2,12)(98.2,13)(99.7,14.3)(102.2,14.1)(105.2,12.8)(107.7,11.7)(110.7,10.8)(113.7,10.6)(117.7,11)(120.7,10.8)(123.2,10.1)(125.2,9.85)(127.7,9.9)(130.7,11.5)(133.7,12.8)(136.7,14.8)(138.7,15.8)(142.5,16.5)
  (145.5,18.3)(148.3,19.8)(151,20.75)(153.8,20.9)(156.6,21.3)(159.4,22.3)(163.8,22.8)(166,23.2)(171,27.8)(173.3,26)(176,26.1)(181,24.6)(184.9,24.8)(188.8,25.6)(191,25.5)(193.3,26.3)(194.9,25)(197.1,24.1)(199.9,25.5)(203.3,28.7)(208.3,32.7)(211.6,37.3)(213.8,38.9)(217.1,36.7)(220.5,37.3)(226,39.6)(231.6,38.6)(236.6,38.1)(240.5,33.6)(244.9,32.9)(246.6,28.3)(249.4,26.1)(252.7,24.8)(256,22.6)(261.6,21.3)(263.8,22)(266,23.3)(271.6,23.2)(278.8,23.7)(282.7,23.7)(287.1,23)(291.6,23.5)(294.4,21.4)(295.5,19.5)(298.3,17.6)(301.6,15.2)(303.8,14.1)(306.9,13.9)(308.8,14.4)(310,15.23)};
  \addplot[fill=fibb!60!bluel, fill opacity=.075, draw=none] fill between[of=bbu and bbl];
  % basis
  \addplot[color=fibb!70!bluel, line width=.8pt] coordinates {
  (-14.3,35.4)(-8.3,34.7)(-3.3,34.05)(.7,35.4)(3.7,37.8)(8.7,38.9)(12.7,40.4)(15.7,40.2)(19.7,38.3)(25.7,35.9)(29.7,36.9)(34.7,36.4)(38.7,37.9)(43.2,39.4)(47.7,38.9)(51.7,33.2)(55.7,30.2)(60.7,27)(66.7,25.8)(72.7,24.3)(78.7,23.5)(82.7,21.7)(86.7,19.2)(92.7,17.8)(98.7,17)(103.7,16)(107.7,14.7)(111.7,14)(116.7,14)(122.7,15.4)(127.7,17.4)(133.7,19.3)(138.7,21.45)(142.5,23.5)
  (148.3,24.5)(152.7,27.9)(157.1,29.4)(162.7,30.2)(169.4,33.2)(174.9,31.9)(181.6,30)(189.4,31.3)(194.4,32.3)(199.4,36.9)(207.1,40.2)(213.8,43.2)(220.5,46.7)(227.1,46)(233.8,44.3)(240.5,42.1)(246,38.9)(252.1,33.6)(259.4,31)(264.9,28.7)(273.8,28.1)(281.6,26.3)(286,27.9)(291.6,26.7)(295.5,23.8)(301.6,21.45)(309.4,20.72)};
  % ema
  \addplot[orangel!90!black, line width=1pt] coordinates {
  (-14.3,36)(-10.3,36.1)(-6.3,35.4)(-1.3,34.7)(2.7,36.6)(7.7,37.6)(11.7,39.3)(15.7,40.7)(19.7,39.9)(25.7,37.3)(29.7,36.6)(34.7,35.4)(38.7,36.1)(42.7,37.3)(46.7,38.9)(50.7,36.9)(55.7,32.3)(62.7,27)(68.7,23.2)(73.7,23)(79.7,23)(82.7,21.3)(86.7,19.7)(92.7,17.8)(97.2,16.4)(102.2,15.4)(108.7,14.5)(113.7,14)(119.7,13.6)(123.2,14)(127.7,15.8)(132.7,17.8)(137.7,20.3)(142.5,22.6)
  (146.6,23.7)(151.6,25.5)(154.9,27.2)(159.4,29.4)(163.8,31)(169.9,33.2)(176,32.3)(182.7,31.7)(189.4,30.6)(193.8,32.3)(200.5,35.4)(208.3,40.4)(213.8,43.2)(218.3,45.2)(222.7,47.4)(230.5,48)(233.8,47.5)(239.4,43.8)(246,39.4)(252.7,33.6)(260.5,29.5)(264.9,27.4)(270.5,27.4)(277.1,27.8)(283.8,27.6)(290.5,26.8)(294.9,24.8)(300.5,22)(310,20.04)};
  % candles: wicks then bodies
  \addplot[draw=none, mark=none, error bars/.cd, y dir=both, y explicit, error mark=none, error bar style={upc, line width=.55pt}]
    table[x=d, y expr=\filterup{o}, y error plus expr={\thisrow{h}-\thisrow{o}}, y error minus expr={\thisrow{o}-\thisrow{l}}] {\candles};
  \addplot[draw=none, mark=none, error bars/.cd, y dir=both, y explicit, error mark=none, error bar style={dnc, line width=.55pt}]
    table[x=d, y expr=\filterdn{c}, y error plus expr={\thisrow{h}-\thisrow{c}}, y error minus expr={\thisrow{c}-\thisrow{l}}] {\candles};
  \addplot[draw=none, mark=none, error bars/.cd, y dir=plus, y explicit, error mark=none, error bar style={upc, line width=2pt}]
    table[x=d, y expr=\filterup{o}, y error plus expr={\thisrow{c}-\thisrow{o}}] {\candles};
  \addplot[draw=none, mark=none, error bars/.cd, y dir=plus, y explicit, error mark=none, error bar style={dnc, line width=2pt}]
    table[x=d, y expr=\filterdn{c}, y error plus expr={\thisrow{o}-\thisrow{c}}] {\candles};
  % four seasons
  \addplot[only marks, mark=*, mark size=10.7pt, mark options={fill=circg, draw=none, opacity=.72}] coordinates {
  (11,57.2)(39.8,52.7)(70,33.65)(98.8,21.6)(128.7,28.9)(157.8,47.7)(187.8,45.2)(246.7,46.3)(275.7,41.7)(305.6,27.4)};
  \addplot[only marks, mark=*, mark size=10.7pt, mark options={fill=circr, draw=none, opacity=.7}] coordinates {
  (-4,21.8)(25,20.9)(55,15.16)(84,10.3)(114,9.22)(143,18.6)(172.8,17.9)(202.8,29.4)(231.7,26.9)(261.7,17.2)(290.6,17.5)};
  \addplot[only marks, mark=moon, mark options={draw=moonc, opacity=.65, line width=.9pt}] coordinates {
  (-10,46.1)(18.7,44)(48,38.4)(78,27.6)(108,16.3)(137,31.4)(166.6,46.5)(196,52)(225.5,57.8)(254.4,36.9)(284.4,31.9)};
  % trend lines
  \addplot[bluel!85!black, line width=1pt] coordinates {(77.8,9.22)(417.6,34.5)};
  \addplot[bluel!85!black, line width=1pt] coordinates {(119.8,70.4)(364.2,9.18)};
  \addplot[bluel!85!black, line width=1pt] coordinates {(168.3,70.4)(417.6,10.79)};
  % zigzag
  \addplot[zigc, line width=.9pt] coordinates {(222.7,52.4)(247,24.3)(270,32.7)(297.9,15.83)(310.1,22.25)(349.7,10.37)};
  \begin{scope}[font=\fontsize{20}{21}\selectfont]
    \node[text=zigc, inner sep=0pt] at (axis cs:247,21.3) {(A)};
    \node[text=zigc, inner sep=0pt] at (axis cs:270,37.3) {(B)};
    \node[text=zigc, inner sep=0pt] at (axis cs:297.9,13.8) {(C)};
    \node[text=zigc, inner sep=0pt] at (axis cs:309.7,25.3) {(D)};
    \node[text=zigc, inner sep=0pt] at (axis cs:349.7,9.0) {(E)};
  \end{scope}
\end{axis}

% RSI
\begin{axis}[pane, at={(0pt,435pt)}, height=240.75pt, ymin=6.29, ymax=106.6,
  ytick={20,40,60,80,100}, yticklabels={,40.00,,80.00,100.00}]
  \addplot[draw=none, fill=rsic, fill opacity=.11] coordinates {(-14.3,70)(417.8,70)(417.8,30)(-14.3,30)} --cycle;
  \addplot[name path=ru, bandc, line width=.9pt] coordinates {
  (-14.3,68)(-10.9,62.8)(-9.3,62.8)(-7.1,67.4)(-4.3,64.6)(-2.1,58.7)(-.4,62.2)(1.3,72.6)(4,84.7)(5.7,82.6)(7.9,80.9)(10.2,80.9)(11.8,78.1)(14,65.6)(15.2,62.8)(16.3,62.8)(17.9,70.6)(20.7,70.5)(22.4,61.5)(25.7,48.3)(27.9,52.4)(30.1,62.2)(32.1,66)(33.5,62.5)(35.1,65.6)(38.5,67)(41.3,69.1)(42.9,71.9)(46.8,67.7)(48.5,70.5)(50.7,71.5)(52.4,69.4)(54,53.1)(56.8,43.4)(59.1,43.1)(62.4,49)(62.9,51.7)(65.7,53.3)(69,51.4)(71.3,51.4)(74,54.5)(79.6,54.6)(81.8,58.5)(82.9,58.5)(88,42.4)(91.3,42.6)(93,42.4)(96.8,48.6)(101.8,48.6)(105.8,51.4)(108,46.9)(111,41.3)(115.2,56.9)(118.5,67.4)(120.2,68)(122.4,81.6)(126.8,84)(130.7,81.7)(136.2,82.6)(137.9,81.6)(140.7,85.8)(143.5,85.1)(146.8,93.8)(149,93.5)(151.3,85.1)(153.5,77.8)(155.2,80.8)(157.4,80.8)
  (160.1,86.1)(162.9,80.9)(165.1,77.8)(166.8,76.7)(168.4,72.9)(170.7,71)(172.9,77.1)(175.1,72.6)(177.9,60.8)(181,54.4)(182.9,57.6)(186.8,61.5)(189.5,64.9)(191.8,65.6)(194,66.3)(197.3,77.1)(201.8,78)(205.7,74)(207.3,71.9)(209,75.7)(210.7,75.7)(212.9,72.2)(216.8,81.9)(221.2,80.6)(223.4,84.5)(225.1,84.4)(229,69.8)(232.3,53.1)(236.8,45.1)(239,45.5)(244.5,44.8)(246.2,45.8)(250.1,46.5)(253.4,39.6)(257.9,41)(262.9,39.2)(265.7,48.6)(269.5,66.7)(271.8,65.6)(273.4,62.2)(277.3,63.5)(280.1,57.6)(283.4,60.2)(287.3,54.5)(289.9,60.2)(294,59)(295.9,62.3)(297.9,59.4)(301.2,43.8)(303.8,31.3)(307.9,44.1)(309.9,55.63)};
  \addplot[name path=rl, bandc, line width=.9pt] coordinates {
  (-14.3,45.1)(-11.5,46.9)(-9.3,43.4)(-7.1,29.5)(-4.3,27.6)(-2.1,29.9)(1.1,25.3)(2.9,35.1)(5.7,44.1)(7.9,48.8)(9.6,47.9)(11.3,44.9)(12.6,45.5)(14,51)(15.9,52)(17.4,37.2)(20.1,24.6)(22.9,16.5)(24,17.4)(25.9,21.7)(29,19.1)(30.7,20.5)(32.4,24.7)(33.5,39.2)(35.1,41.3)(37.9,46.2)(40.7,40.3)(42.9,42)(44.6,42.4)(47.1,39.9)(47.9,32.3)(51.8,19.1)(54.6,24.3)(56.8,28.8)(60.2,29.2)(62.4,32.3)(66.9,33.7)(69.6,38.2)(71.8,36.5)(74,34)(77.9,35.8)(80.2,33)(81.8,27.8)(83.5,24)(85.2,23.3)(88.5,25.2)(90.8,25.2)(93,29)(95.8,32.6)(100.2,34.4)(101.8,35.8)(105.8,25.3)(110.3,21.9)(114.2,17.2)(118.1,23.9)(119.6,30.9)(121.3,38.9)(124.2,47.6)(127.5,64.2)(130.1,64.9)(133,63.5)(135.7,64.9)(137.9,64.9)(141,66.7)(143.7,70.5)(144.8,58)(146.8,49.7)(150.3,41.7)(155.8,46.9)(159,53.1)
  (160.1,44.4)(162.3,39.9)(165.1,40.3)(167.9,43)(169.5,47.6)(171,47.9)(171.8,39.6)(173.1,35.8)(175.1,34.7)(177.3,35.2)(180.1,33)(182.9,35.9)(185.7,34.9)(189,37.5)(191.8,48.6)(194,49.7)(195.1,47.2)(197.9,51.7)(201.2,54.9)(204,61.5)(205.1,61.8)(205.9,59.4)(207.9,60.1)(209.5,50)(212.9,47.2)(216.8,44.1)(217.9,44.1)(221.8,55.6)(223.4,43.8)(226.8,36.1)(228.4,28.1)(229.5,27.6)(232.3,30.2)(234.5,29.9)(236.2,30.9)(237.9,30.9)(239.9,28.8)(242.9,29.5)(245.7,29.5)(247.9,21.2)(249.5,19.2)(251.8,18.4)(254,19.7)(255.7,19)(259,24.7)(260.7,24.7)(262.9,28.8)(264,28.8)(265.7,23.3)(268.8,22.4)(271.2,28.8)(272.9,37.2)(274.5,39.2)(277.9,39.4)(280.1,38.2)(281.8,32.3)(284,28)(286.8,29.9)(289.5,29)(292.3,33.3)(294,33.7)(295.7,20.5)(298.4,14.9)(301.2,17.7)(303.4,22.6)(305.1,19.4)(307.9,21.3)(309.9,20.36)};
  \addplot[fill=fibn, fill opacity=.11, draw=none] fill between[of=ru and rl];
  \addplot[fibg, line width=.9pt, dash pattern=on 5.5pt off 5.5pt] coordinates {(-14.3,70)(417.8,70)};
  \addplot[fibg, opacity=.6, line width=.9pt, dash pattern=on 5.5pt off 5.5pt] coordinates {(-14.3,50)(417.8,50)};
  \addplot[fibg, line width=.9pt, dash pattern=on 5.5pt off 5.5pt] coordinates {(-14.3,30)(417.8,30)};
  \addplot[rsic, line width=.8pt] coordinates {
  (-14.3,51)(-13,61.1)(-11,53.8)(-9.3,44.8)(-7.6,32)(-6.7,31.3)(-6,45.5)(-4.3,42.7)(-3.2,51)(-2.1,49.7)(-1.2,60.1)(0,61.1)(1.3,70.1)(2.4,70.5)(2.9,76)(3.8,78)(4.8,63.5)(5.9,53.1)(7,57.6)(7.9,55.9)(9,58)(10.7,53.8)(11.8,61.5)(13.7,61.8)(14.8,53.1)(15.9,55.6)(17,45.5)(17.9,34.4)(18.8,36.8)(19.9,33)(21.9,29.9)(22.9,24.3)(24,28.1)(24.8,43.1)(25.9,47.2)(26.8,44.8)(27.9,51)(30.1,54.2)(31.3,53.1)(32.1,55.2)(32.9,45.5)(33.7,62.2)(34.8,64.9)(35.9,58.3)(37.9,59.4)(39,46.2)(39.8,52.8)(40.9,43.1)(42.9,68.4)(44,58)(45.2,52.4)(46,48.3)(47.4,51.7)(47.9,32)(48.8,38.5)(50.1,33.7)(51.8,28.8)(53.1,38.2)(54,37.5)(54.6,41)(55.7,40.6)(57.4,35.8)(58.5,35.8)(59.8,43.1)(60.7,42)(62.4,51)(63.5,46.9)(64.8,44.4)(65.7,45.5)(67,40.3)(67.9,40.3)(69,44.8)(70.7,39.2)(71.8,38.9)(72.9,49)(74,55.6)(75.1,49.7)(76.8,46.2)(78.5,39.9)(79.6,41)(81.8,27.4)(82.9,33)(84,34.4)(84.9,30.2)(85.7,30.6)(87.4,37.2)(89,40.6)(89.8,41)(91.3,36.1)(92.4,37.2)(93.7,41.7)(95.2,37.2)(96.8,49.7)(98,41.3)(98.8,43.4)(100.2,41)(100.7,43.1)(101.8,37.9)(104,33)(106.3,25.7)(107.6,32.6)(108.7,26.7)(109.6,25)(111,39.9)(112.4,46.9)(113.5,50)(115.2,51)(116.8,55.9)(118.5,60.8)(119.6,67)(121.8,78.5)(123.7,67)(124.8,74.7)(125.7,74.5)(126.8,79.2)(127.7,80.2)(128.8,66.7)(130.1,70.8)(130.9,70.8)(131.8,74)(132.9,67.4)(133.8,75)(135.7,76.7)(136.8,80.6)(137.9,71.2)(139,80.2)(140.7,83.7)(142.4,79.9)(143.7,79.9)(144.9,56.9)(145.5,61.1)(146.8,49.7)(147.7,60.1)(149,56.6)(149.8,55.6)(150.9,57.3)(152.4,76.4)(153.5,69.1)(154.6,72.9)(155.9,66.7)(157,71.2)(158.1,70.8)
  (160.1,46.2)(161,52.4)(161.8,50.3)(162.9,59.4)(164,66.7)(164.9,62.9)(165.9,68.1)(167,64.2)(168.8,52.4)(169.9,57.3)(171,53.8)(172.1,39.6)(173.1,35.8)(174,50.3)(175.1,53.5)(176,47.6)(177.9,42.7)(179.9,38.2)(181.2,43.4)(182.7,54.9)(184.8,55.6)(186,51.7)(187.1,53.1)(189,61.5)(189.9,58.7)(190.7,66.7)(191.8,58.3)(192.7,57.6)(193.8,60.4)(194.9,74)(195.9,70.1)(197,74.3)(197.7,68.4)(198.7,68.8)(199.8,64.6)(200.7,64.9)(202,71.5)(202.9,64.6)(204.5,67)(205.7,59.4)(206.5,64.9)(207.9,65.6)(208.9,49)(210.7,59.4)(212,54.5)(212.8,54.5)(213.7,70.1)(216.2,75)(216.9,75.4)(217.9,67)(220.1,68.1)(220.8,70.5)(221.9,55.6)(223,46.5)(224,48.6)(225,44.1)(226,48.3)(227,46.2)(228.7,32.3)(229.8,39.6)(230.8,32)(232.3,40.6)(233.2,42.4)(234,41.7)(235.1,36.1)(235.9,39.6)(236.8,35.1)(237.5,39.6)(238.8,30.2)(240.9,35.1)(242.7,42.7)(244.5,37.2)(245.7,33)(247.5,24)(248.7,22.9)(249.8,33)(250.9,30.9)(251.8,26.7)(252.9,26)(254.5,38.9)(255.9,31.6)(257.5,36.8)(259.5,30.9)(260.8,35.1)(262.9,31.3)(264,35.1)(265.7,54.2)(266.8,49.7)(267.7,52.8)(269,60.8)(269.9,59.4)(271.2,47.2)(272.3,43.4)(272.8,46.5)(273.7,43.4)(274.5,50)(275.7,54.5)(276.8,56.6)(277.9,48.3)(279,43.1)(279.9,43.1)(281.8,34)(282.9,37.9)(284,34.4)(286,52.1)(286.8,47.6)(287.9,53.8)(289.8,53.5)(291.2,45.1)(292.9,38.9)(294,34)(295.4,23.3)(296.8,26.7)(297.9,25)(299,26.7)(300.7,26.7)(302.5,32)(303.8,29.5)(304.9,39.9)(305.7,41.3)(306.8,37.2)(307.9,38.2)(309.9,55.03)};
  \addplot[rsima, line width=1.9pt] coordinates {
  (-14.3,56.9)(-10.4,54.2)(-7.1,48.3)(-2.1,44.2)(.7,47.6)(2.9,58)(5.2,63.2)(8.5,64.9)(11.8,61.8)(15.2,57.3)(16.3,56.9)(21.3,45.5)(24.6,36.1)(26,34.9)(28.5,38.2)(31.8,45.5)(34.6,53.1)(38,56.5)(41.1,54.5)(42.9,57.1)(46.8,53.8)(50.7,47.2)(54.6,38.2)(57.4,35.8)(59.6,36.5)(63.5,42)(69.6,44.9)(72.4,42.7)(77.4,45.1)(80.2,44.1)(83,41)(86.9,34)(90.2,33.7)(95.2,37.5)(96.8,40.3)(101.8,42)(104.6,40.3)(110.4,31.6)(113.5,35.1)(118,45.5)(122.4,61.5)(128,72.9)(130.1,73.6)(132.9,72.6)(137.4,73.6)(140.7,76)(143.7,78.1)(146.8,71.2)(148.5,69.1)(151.3,63.5)(153.8,61.6)(157.8,67)
  (160.1,64.9)(163.4,60.4)(166.2,59)(167.9,57.6)(170.7,59.6)(174.5,53.5)(177.3,48.3)(181.2,43.8)(182.9,46.5)(186.2,47.6)(190.1,53.1)(191.8,56.9)(193.4,57.6)(198.4,65.3)(204,68.5)(207.9,65.6)(210.1,62.5)(212.9,59.5)(217.3,63)(221.5,68)(225.7,58)(231.2,42.4)(236.8,37.8)(240.1,37.2)(244.5,37.2)(247.9,33.3)(250.1,32.9)(253.7,29.2)(255.9,29.4)(258.4,32.4)(260.7,32.4)(265.1,35.1)(267.9,40.6)(270.1,46.2)(272.9,49.7)(277.3,51.6)(280.6,46.9)(284,43.8)(287.1,42.2)(291.8,46.2)(294,46.3)(295.7,41.3)(299,33)(301.4,28.5)(303.5,27.1)(307.9,33)(309.9,38)};
\end{axis}

% Stoch RSI
\begin{axis}[pane, at={(0pt,194.25pt)}, height=60.25pt, ymin=-12.6, ymax=114.2,
  ytick={0,100}, yticklabels={0.00,}]
  \addplot[draw=none, fill=fibb!60!bluel, fill opacity=.13] coordinates {(-14.3,80)(417.8,80)(417.8,20)(-14.3,20)} --cycle;
  \addplot[fibg, line width=.9pt, dash pattern=on 5.5pt off 5.5pt] coordinates {(-14.3,80)(417.8,80)};
  \addplot[fibg, line width=.9pt, dash pattern=on 5.5pt off 5.5pt] coordinates {(-14.3,20)(417.8,20)};
  \addplot[bluel!90!black, line width=.9pt] coordinates {
  (-14.3,22.8)(-11.5,68.4)(-8.7,17.5)(-7.6,1.8)(-5.9,21)(-4.3,45.6)(-2.6,59.6)(-.4,91.2)(1.3,100)(4,100)(5.7,73.7)(7.9,18.2)(10.7,12.3)(12.4,19.3)(14,40.4)(15.2,31.6)(16.8,21)(18.5,5.3)(22.9,0)(24,5.3)(25.7,56.1)(27.9,96.5)(30.1,100)(32.1,100)(32.9,86)(35.1,89.5)(37.9,68.4)(40.7,14)(43.7,73.7)(44.9,71.9)(46.6,35.1)(49.6,8.8)(51.8,3.5)(54.6,38.6)(56.8,57.9)(59.1,66.7)(62.4,100)(64.1,86)(67.4,47.4)(69.6,33.3)(71.8,12.3)(74.6,77.2)(75.7,71.9)(79.6,10.5)(82.4,5.3)(85.2,21)(86.8,24.5)(90,91.2)(91.1,87.7)(93,70.2)(95.2,82.5)(96.8,89.5)(98.5,80.7)(100.2,43.9)(101.3,47.4)(104,3.5)(106.3,.7)(108,18.9)(109.6,15.8)(113,98.2)(114.6,100)(121.8,100)(124.6,77.2)(126.2,87.7)(127.9,94.7)(130.7,21)(133.5,42.1)(134.6,45.6)(136.6,80.7)(139,57.9)(140.2,66.7)(141.8,94.7)(143.5,84.2)(146.8,5.3)(150.1,22.8)(151.8,31.6)(153.5,78.9)(154.6,83.5)(156.3,75.4)(158,73.7)
  (160.1,17.5)(161,7)(162.3,14)(164.5,49.1)(166.2,78.9)(167.9,78.9)(169.5,54.4)(171.2,31.6)(172.9,7)(174.5,17.5)(176.2,47.4)(177.3,43.9)(180.1,24.6)(181.2,22.8)(182.9,63.2)(184.8,100)(186.8,89.5)(187.9,89.5)(189.2,95.4)(190.7,95.4)(192.3,70.2)(193.8,45.6)(195.7,70.2)(197.1,94)(198.4,80.7)(199.9,59.6)(201,53.3)(203.2,57.9)(204.5,40.4)(205.9,15.8)(207.9,35.8)(209,35.8)(210.1,24.6)(211,22.8)(212.3,35.1)(214,59.6)(216.2,100)(217.3,100)(220.1,66.7)(221.2,70.2)(224,10.5)(225.1,2.8)(226.2,7)(227.9,7)(228.8,3.5)(230.7,5.3)(232.3,24.6)(234,56.1)(236.5,40.4)(237.7,56.1)(239,35.1)(240.9,19.3)(242.9,77.2)(243.8,84.2)(246.2,31.6)(247.9,5.3)(248.8,.7)(250.7,35.1)(251.8,40.4)(252.9,28.8)(255.1,64.9)(255.9,73.7)(257.3,68.4)(258.1,64.9)(259,66.7)(260.7,54.4)(262.9,41.3)(264.3,45.6)(265.7,91.2)(266.8,94.7)(269.5,94.7)(271.2,80.7)(272.9,42.1)(274,26.3)(274.8,28.1)(276.8,63.2)(277.9,62.5)(279.5,38.6)(280.9,.7)(281.8,0)(282.9,6.3)(284,7)(285.6,31.6)(287.9,82.5)(289.5,99)(291.8,65)(294,24.6)(295.7,1.8)(297.9,7)(300.1,12.3)(301.8,19.3)(302.9,42.1)(304.5,80.7)(305.9,91.9)(306.8,91.9)(307.9,84.9)(309,84.9)(309.9,93.54)};
  \addplot[orangel!90!black, line width=.9pt] coordinates {
  (-14.3,21)(-12.6,45.6)(-10.9,59.6)(-9.3,35.1)(-7.6,8.8)(-6.3,5.3)(-4.3,35.1)(-2.1,59.6)(-.4,80.7)(1.3,96.5)(3.5,100)(5.2,94.7)(7.4,42.1)(9.1,21)(11.3,14.9)(13.5,24.6)(15.7,33.3)(17.9,8.8)(20.7,3.5)(24,1.8)(25.7,38.6)(27.4,84.2)(29.6,98.2)(31.8,98.2)(33.5,89.5)(35.7,89.5)(37.9,75.4)(40.2,36.8)(41.8,28.1)(43.5,43.9)(45.2,64.9)(46.3,59.6)(48,28.1)(51.3,8.8)(53,7)(55.2,33.3)(57.4,54.4)(59.6,70.2)(62.9,96.5)(65.2,79)(68.5,40.4)(71.3,26.3)(72.9,19.3)(76.3,68.4)(78,56.1)(80.2,17.5)(83,5.3)(85.7,21)(88.5,50.9)(90.7,84.2)(93.5,75.4)(95.7,82.5)(97.4,87.7)(99.1,63.2)(101.8,40.4)(104.6,10.5)(106.3,1.8)(109.6,21)(111.8,52.6)(114,100)(121.8,100)(124.6,80.7)(128.5,84.2)(130.2,56.1)(132.4,29.8)(134.6,40.4)(137.4,72)(139.6,61.4)(143,85.9)(144.6,73.7)(146.8,24.6)(148.8,14)(151.3,22.8)(153.5,59.6)(155.2,80)(157.4,73.7)
  (160.1,42.1)(162.3,15.8)(164.5,35.1)(166.8,68.4)(167.9,77.2)(169.5,63.2)(171.8,33.3)(174,15.8)(176.2,33.3)(177.9,43.9)(180.1,31.6)(181.8,25.3)(183.4,63.2)(185.1,87.7)(186.8,94)(188.4,91.2)(190.7,95.4)(192.3,80.7)(194.5,57.9)(196.2,64.9)(197.9,84.9)(199,84.2)(200.7,61.4)(204,52.6)(205.7,28.1)(206.8,21.8)(209.5,33.3)(211.2,26.3)(213.4,42.1)(215.7,80.7)(217.7,97.5)(219.5,78.9)(222.3,52.6)(224.5,17.5)(226.2,7)(230.1,6.3)(232.3,21)(234,42.1)(235.7,50.9)(237.3,47.4)(239.5,40.4)(241.2,28.1)(242.9,57.9)(244.5,78.9)(246.2,59.6)(248.4,17.5)(249.9,8.8)(251.8,33.3)(254,38.6)(255.7,64.9)(257.3,68.4)(260.1,59.6)(264,43.9)(265.7,68.4)(267.3,91.2)(270.1,93)(271.8,79)(274,33.3)(275.7,33.3)(277.9,54.4)(279,54.4)(280.7,17.5)(282.3,3.5)(284,5.3)(285.7,21)(287.9,66.7)(290.1,91.2)(291.8,80.7)(294.5,22.8)(296.2,3.5)(298.4,7)(301.2,14)(302.9,33.3)(304.5,66.7)(306.8,87.7)(309,87.7)(309.9,87.68)};
\end{axis}

% MACD, carries the time axis
\begin{axis}[pane, at={(0pt,134pt)}, height=106.5pt, ymin=-8.33, ymax=9.42,
  ytick={-5,0,5}, yticklabels={,,5.00},
  xticklabels={Apr,May,Jun,Jul,Aug,Sep,Oct,Nov,Dec,{\bfseries 2022},Feb,Mar,Apr,May},
  xticklabel style={anchor=center, inner sep=0pt, yshift=-14pt, font=\lblfont, text=black!85}, xtick pos=bottom]
  \addplot[ycomb, upc, line width=1.1pt, mark=none] table[x=d, y expr=\histk{1}] {\machist};
  \addplot[ycomb, color=upc!35, line width=1.1pt, mark=none] table[x=d, y expr=\histk{2}] {\machist};
  \addplot[ycomb, dnc, line width=1.1pt, mark=none] table[x=d, y expr=\histk{3}] {\machist};
  \addplot[ycomb, color=dnc!32, line width=1.1pt, mark=none] table[x=d, y expr=\histk{4}] {\machist};
  \addplot[bluel!90!black, line width=1pt] coordinates {
  (-14.3,1.67)(-13.2,1.86)(-11,1.81)(-9.3,1.25)(-7.6,-.56)(-5.4,-.69)(-4,-.78)(-2.1,-.28)(.2,.69)(2.4,2.64)(4,3.89)(4.8,3.94)(6.3,3.42)(8.5,2.92)(10.7,2.44)(13.5,2.56)(15.7,2.22)(17.4,.97)(19,-.69)(21.3,-2.08)(24,-3.36)(26.8,-2.36)(29.6,-.97)(31.8,-.42)(33.5,1.11)(37.9,1.53)(40.2,.83)(40.9,.42)(42.9,2.36)(44.6,2.5)(46.8,1.81)(48.5,-1.81)(50.2,-3.75)(52,-6.31)(53.8,-6.67)(55.7,-6.06)(57.9,-6.39)(59.1,-6.25)(61.3,-4.58)(63.5,-3.33)(65.7,-2.92)(68,-3.19)(69.6,-2.78)(72.4,-3)(74.6,-1.81)(76.8,-1.53)(78.5,-1.67)(80.2,-2.22)(81.8,-3.47)(84,-3.89)(86,-4.03)(89.6,-3.19)(92.9,-2.78)(96.3,-1.81)(101.3,-1.53)(105.2,-1.81)(106.3,-2.08)(110.2,-2.36)(113.5,-1.53)(118,-.56)(122.4,1.11)(124.6,1.39)(127.4,2.22)(132.4,2.36)(136.8,2.97)(139,2.97)(141.8,3.89)(144,3.97)(146.8,2.64)(150.7,2.14)(152.9,3.47)(155.2,4.17)(157.7,4.5)
  (160.1,2.78)(162.3,2.08)(164.5,3.33)(166.8,3.83)(168.4,3.61)(171.2,2.64)(172.9,.64)(175.1,.83)(177.9,0)(180.7,-1.19)(181.8,-1.11)(184,0)(186.8,.56)(190.7,1.75)(193.4,1.81)(196.8,4.17)(199,4.5)(205.1,4.36)(208.4,3.75)(209.5,2.97)(211.2,2.97)(213.2,2.5)(216.8,5.56)(220.7,5.42)(222.9,3.75)(225.1,2.36)(227.3,1.25)(229,-.42)(231.2,-1.53)(233.4,-1.67)(236.8,-2.36)(240.1,-3.61)(242.9,-3.06)(245.7,-3.19)(248.4,-5.14)(250.7,-5)(252.9,-5.47)(255.1,-5)(260.7,-4.44)(263.4,-4.31)(265.7,-2.78)(269.9,-.69)(274,-1.11)(276.8,-.28)(279,-.69)(281.8,-1.53)(284,-1.94)(289.5,-.47)(292.3,-.97)(295.7,-2.92)(297.9,-3.61)(300.7,-3.69)(305.7,-2.64)(307.9,-2.31)(309.9,-1.47)};
  \addplot[orangel!90!black, line width=1pt] coordinates {
  (-14.3,2.31)(-10.4,1.86)(-7.6,.97)(-4.3,.14)(-1,-.08)(2.4,1.25)(5.2,2.5)(8,2.83)(11.3,2.72)(14.6,2.64)(17.4,1.81)(20.2,0)(23.5,-1.53)(26.8,-2.03)(30.1,-1.67)(33.5,-.83)(36.8,.42)(40.2,.69)(43.5,1.39)(46.8,1.67)(49,0)(51.3,-2.36)(54.6,-4.58)(57.9,-5.56)(60.2,-5.64)(63,-4.72)(66.3,-3.75)(72.4,-3.06)(75.7,-2.22)(79.6,-1.94)(83,-2.92)(86.9,-3.53)(91.3,-3.25)(96.3,-2.5)(101.3,-1.86)(105.2,-1.81)(111.3,-2.14)(115.7,-1.53)(121.3,0)(127.4,1.53)(133.5,2.22)(139,2.69)(144.6,3.61)(151.3,2.64)(158,3.89)
  (160.1,3.61)(163.4,2.86)(166.8,3.28)(169.5,3.28)(171.2,2.92)(173.4,1.94)(176.8,1.11)(180.1,0)(182.9,-.36)(186.8,0)(190.7,.69)(194,1.39)(197.9,3.06)(201.8,3.83)(205.7,4.11)(207.9,4.03)(213.4,3.14)(217.3,4.44)(221.2,5.06)(225.7,3.75)(231.2,.28)(236.8,-1.53)(241.8,-2.78)(245.1,-2.97)(249,-4.17)(254.5,-4.94)(260.1,-4.72)(264,-4.44)(266.8,-3.47)(270.1,-2.08)(274,-1.53)(279,-.78)(285.7,-1.47)(291.8,-.89)(295.7,-2.08)(300.1,-3.06)(303.4,-3.25)(309.9,-2.31)};
\end{axis}

\path[use as bounding box] (0,0);

% pane dividers and price scale edge
\draw[dividerc, line width=1pt] (0pt,435pt) -- (1306pt,435pt);
\draw[dividerc, line width=1pt] (0pt,194.25pt) -- (1306pt,194.25pt);
\draw[dividerc, line width=1pt] (0pt,134pt) -- (1306pt,134pt);
\draw[dividerc, line width=1pt] (0pt,27.5pt) -- (1306pt,27.5pt);
\draw[dividerc, line width=1pt] (1238.5pt,0pt) -- (1238.5pt,765pt);

% indicator names
\panetext{32}{\textbf{DOT / TetherUS, 1D, BINANCE}}{\legfont}
\panetext{66}{BB}{\legfont}
\panetext{100}{Vol}{\legfont}
\panetext{134}{EMA}{\legfont}
\panetext{168}{InSillico\&\#039;s Four Seasons}{\legfont}
\panetext{695}{RSI}{\legfont}
\panetext{1175}{Stoch RSI}{\legfont}
\panetext{1295}{MACD}{\legfont}

% top price label runs off the page, then the USDT box
\node[anchor=west, inner sep=0pt, text=black!85, font=\lblfont] at (1248.25pt,764pt) {70.00};
\node[draw=dividerc, fill=white, rounded corners=2.5pt, line width=.8pt, minimum width=34pt, minimum height=18pt, inner sep=0pt, font=\lblfont, text=black!85] at (1271.5pt,749.5pt) {USDT};

% value tags
\fill[upc, rounded corners=1.5pt] (1238.5pt,{(1530-371)/2*1pt}) rectangle (1301pt,{(1530-432.5)/2*1pt});
\node[anchor=west, inner sep=0pt, white, font=\lblfont] at (1248.5pt,{(1530-388)/2*1pt}) {21.20};
\node[anchor=west, inner sep=0pt, white, font=\lblfont] at (1248.5pt,{(1530-416)/2*1pt}) {06:32:19};
\pill{320.5}{354}{2567}{bluel}{24.84}
\pill{433}{467}{2567}{tag2}{20.72}
\pill{467.5}{501}{2567}{orangel}{20.04}
\pill{502}{534}{2567}{bluel}{15.23}
\pill{624}{658}{2586}{upc}{7.782M}
\pill{857}{890}{2568}{fibn}{55.63}
\pill{891}{925}{2568}{rsic}{55.03}
\pill{973.5}{1007}{2568}{tag3}{38.00}
\pill{1058}{1092}{2568}{fibn}{20.36}
\pill{1144.5}{1178}{2568}{bluel}{93.54}
\pill{1179}{1212}{2568}{orangel}{87.68}
\pill{1348}{1381}{2556}{upc}{0.84}
\pill{1382.5}{1416}{2568}{bluel}{−1.55}
\pill{1417}{1450}{2568}{orangel}{−2.39}
\end{tikzpicture}
\end{document}
